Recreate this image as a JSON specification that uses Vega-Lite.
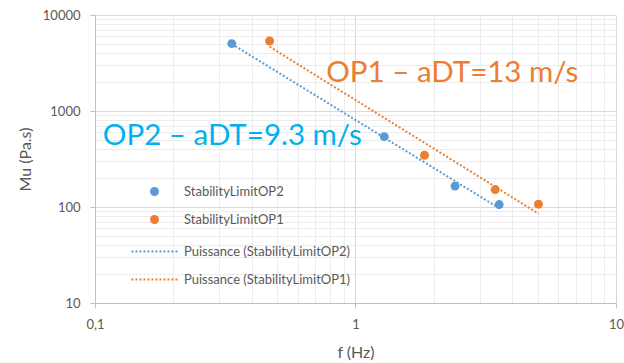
{
  "$schema": "https://vega.github.io/schema/vega-lite/v6.json",
  "autosize": {"type": "none"},
  "width": 521,
  "height": 288,
  "padding": {"left": 95, "top": 15, "right": 8, "bottom": 60},
  "background": "white",
  "config": {
    "view": {"stroke": null},
    "font": "Lato",
    "axis": {"labelFont": "Lato", "titleFont": "Lato", "labelColor": "#595959", "titleColor": "#595959", "labelFontSize": 13, "titleFontSize": 16, "titleFontWeight": "normal", "domainColor": "#bfbfbf", "tickColor": "#bfbfbf"},
    "legend": {"labelFont": "Lato", "labelFontSize": 13, "labelColor": "#595959", "labelLimit": 300}
  },
  "resolve": {"scale": {"color": "independent"}, "legend": {"color": "independent"}},
  "data": {
    "values": [
      {"series": "StabilityLimitOP2", "f": 0.335, "mu": 5035},
      {"series": "StabilityLimitOP2", "f": 1.29, "mu": 541},
      {"series": "StabilityLimitOP2", "f": 2.41, "mu": 165},
      {"series": "StabilityLimitOP2", "f": 3.56, "mu": 106},
      {"series": "StabilityLimitOP1", "f": 0.468, "mu": 5360},
      {"series": "StabilityLimitOP1", "f": 1.84, "mu": 346},
      {"series": "StabilityLimitOP1", "f": 3.44, "mu": 152},
      {"series": "StabilityLimitOP1", "f": 5.04, "mu": 107}
    ]
  },
  "layer": [
    {
      "transform": [
        {"regression": "mu", "on": "f", "groupby": ["series"], "method": "pow"},
        {"calculate": "'Puissance (' + datum.series + ')'", "as": "trend"}
      ],
      "mark": {"type": "line", "strokeDash": [2, 2], "strokeWidth": 2, "clip": true},
      "encoding": {
        "x": {"field": "f", "type": "quantitative"},
        "y": {"field": "mu", "type": "quantitative"},
        "color": {
          "field": "trend", "type": "nominal",
          "scale": {
            "domain": ["Puissance (StabilityLimitOP2)", "Puissance (StabilityLimitOP1)"],
            "range": ["#5B9BD5", "#ED7D31"]
          },
          "legend": {
            "title": null,
            "orient": "none",
            "legendX": 53,
            "legendY": 230,
            "symbolType": "M-5,0H5",
            "symbolSize": 85,
            "symbolStrokeWidth": 2,
            "symbolDash": [2, 2],
            "symbolFillColor": "transparent",
            "labelOffset": 23,
            "rowPadding": 14
          }
        }
      }
    },
    {
      "mark": {"type": "circle", "size": 80, "opacity": 1},
      "encoding": {
        "x": {
          "field": "f", "type": "quantitative",
          "scale": {"type": "log", "domain": [0.1, 10], "nice": false},
          "axis": {
            "title": "f (Hz)",
            "titlePadding": 13,
            "values": [0.1, 0.2, 0.3, 0.4, 0.5, 0.6, 0.7, 0.8, 0.9, 1, 2, 3, 4, 5, 6, 7, 8, 9, 10],
            "labelExpr": "datum.value == 0.1 ? '0,1' : (datum.value == 1 ? '1' : (datum.value == 10 ? '10' : ''))",
            "labelPadding": 10,
            "tickSize": 5,
            "labelFlush": false,
            "labelOverlap": false,
            "grid": true,
            "gridColor": {"condition": {"test": "indexof([0.1, 1, 10], datum.value) >= 0", "value": "#d9d9d9"}, "value": "#ececec"},
            "tickOpacity": {"condition": {"test": "indexof([0.1, 1, 10], datum.value) >= 0", "value": 1}, "value": 0}
          }
        },
        "y": {
          "field": "mu", "type": "quantitative",
          "scale": {"type": "log", "domain": [10, 10000], "nice": false},
          "axis": {
            "title": "Mu (Pa.s)",
            "titlePadding": 9,
            "values": [10, 20, 30, 40, 50, 60, 70, 80, 90, 100, 200, 300, 400, 500, 600, 700, 800, 900, 1000, 2000, 3000, 4000, 5000, 6000, 7000, 8000, 9000, 10000],
            "labelExpr": "indexof([10, 100, 1000, 10000], datum.value) >= 0 ? datum.label : ''",
            "format": "d",
            "labelPadding": 10,
            "tickSize": 5,
            "labelOverlap": false,
            "labelFlush": false,
            "grid": true,
            "gridColor": {"condition": {"test": "indexof([10, 100, 1000, 10000], datum.value) >= 0", "value": "#d9d9d9"}, "value": "#ececec"},
            "tickOpacity": {"condition": {"test": "indexof([10, 100, 1000, 10000], datum.value) >= 0", "value": 1}, "value": 0}
          }
        },
        "color": {
          "field": "series", "type": "nominal",
          "scale": {
            "domain": ["StabilityLimitOP2", "StabilityLimitOP1"],
            "range": ["#5B9BD5", "#ED7D31"]
          },
          "legend": {
            "title": null,
            "orient": "none",
            "legendX": 53,
            "legendY": 170,
            "symbolType": "circle",
            "symbolSize": 80,
            "symbolOpacity": 1,
            "labelOffset": 23,
            "rowPadding": 14
          }
        }
      }
    },
    {
      "data": {"values": [{"label": "OP1 – aDT=13 m/s", "f": 0.772, "mu": 1991}]},
      "mark": {"type": "text", "align": "left", "baseline": "alphabetic", "font": "Lato", "fontSize": 29.5, "color": "#ED7D31"},
      "encoding": {
        "x": {"field": "f", "type": "quantitative"},
        "y": {"field": "mu", "type": "quantitative"},
        "text": {"field": "label"}
      }
    },
    {
      "data": {"values": [{"label": "OP2 – aDT=9.3 m/s", "f": 0.1072, "mu": 439}]},
      "mark": {"type": "text", "align": "left", "baseline": "alphabetic", "font": "Lato", "fontSize": 29.5, "color": "#00B0F0"},
      "encoding": {
        "x": {"field": "f", "type": "quantitative"},
        "y": {"field": "mu", "type": "quantitative"},
        "text": {"field": "label"}
      }
    }
  ]
}
